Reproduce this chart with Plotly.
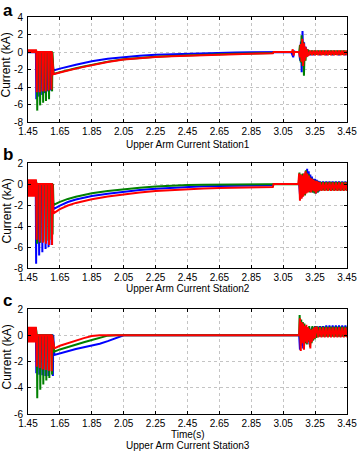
import plotly.graph_objects as go

# ---------------- shared time grids ----------------
PRE_T = [1.45, 1.455, 1.46, 1.465, 1.47, 1.475, 1.48, 1.485, 1.49, 1.495, 1.499]
DEC_T = [1.61, 1.65, 1.70, 1.75, 1.80, 1.85, 1.95, 2.05, 2.15, 2.25, 2.35, 2.45, 2.55, 2.65, 2.75, 2.85, 2.985]
X_TICKS = [1.45, 1.65, 1.85, 2.05, 2.25, 2.45, 2.65, 2.85, 3.05, 3.25, 3.45]

# ---------------- Station 1 (panel a) ----------------
A_PRE_B = [0.1, -0.1, 0.15, -0.1, 0.1, -0.1, 0.15, -0.1, 0.1, -0.1, 0.1]
A_PRE_G = [0.2, -0.05, 0.2, -0.05, 0.2, -0.05, 0.2, -0.05, 0.2, -0.05, 0.2]
A_PRE_R = [0.3, -0.1, 0.3, -0.1, 0.3, -0.1, 0.3, -0.1, 0.3, -0.1, 0.3]
A_SPK_T_B = [1.502, 1.520, 1.539, 1.557, 1.576, 1.594]
A_SPK_V_B = [-5.4, -5.1, -4.9, -4.7, -4.5, -4.4]
A_SPK_T_G = [1.508, 1.526, 1.545, 1.563, 1.582, 1.601]
A_SPK_V_G = [-6.7, -6.1, -5.8, -5.6, -5.4, -4.5]
A_SPK_T_R = [1.505, 1.523, 1.542, 1.560, 1.579, 1.597]
A_SPK_V_R = [-4.6, -4.6, -4.5, -4.5, -4.4, -4.3]
A_DEC_B = [-2.1, -1.9, -1.65, -1.45, -1.25, -1.05, -0.78, -0.56, -0.42, -0.32, -0.25, -0.19, -0.13, -0.08, -0.05, -0.03, -0.02]
A_DEC_G = [-2.5, -2.3, -2.05, -1.85, -1.65, -1.45, -1.1, -0.83, -0.66, -0.54, -0.46, -0.38, -0.31, -0.26, -0.21, -0.17, -0.12]
A_DEC_R = [-2.55, -2.35, -2.1, -1.9, -1.7, -1.5, -1.15, -0.87, -0.7, -0.58, -0.5, -0.42, -0.35, -0.3, -0.25, -0.2, -0.15]
A_TR_T_B = [2.99, 3.10, 3.113, 3.118, 3.125, 3.15, 3.156, 3.161, 3.166, 3.171, 3.176, 3.181, 3.186, 3.191, 3.196, 3.201, 3.206]
A_TR_V_B = [0, 0, -0.6, 0.1, 0, 0, -1.0, 1.2, -2.3, 2.4, -1.4, 1.1, -0.9, 0.6, -0.5, 0.3, -0.3]
A_TR_T_G = [2.99, 3.15, 3.155, 3.16, 3.165, 3.17, 3.175, 3.18, 3.185, 3.19, 3.195, 3.20, 3.205]
A_TR_V_G = [0, 0, 0.8, -1.2, 1.9, -1.6, 1.2, -2.7, 0.6, -1.0, 0.3, -0.5, 0.2]
A_TR_T_R = [2.99, 3.105, 3.11, 3.115, 3.12, 3.15, 3.155, 3.16, 3.165, 3.17, 3.175, 3.18, 3.185, 3.19, 3.195, 3.20, 3.205]
A_TR_V_R = [0, 0, 0.3, -0.4, 0, 0, -0.6, 0.9, -1.1, 1.5, -1.6, 1.0, -1.0, 0.6, -0.6, 0.3, -0.4]
A_ST_T = [3.21, 3.22, 3.23, 3.24, 3.25, 3.26, 3.27, 3.28, 3.29, 3.30, 3.31, 3.32, 3.33,
          3.34, 3.35, 3.36, 3.37, 3.38, 3.39, 3.40, 3.41, 3.42, 3.43, 3.44, 3.45]
A_ST_B = [0.1, -0.35, 0.1, -0.35, 0.1, -0.3, 0.1, -0.35, 0.1, -0.3, 0.1, -0.35, 0.1,
          -0.3, 0.1, -0.35, 0.1, -0.3, 0.1, -0.35, 0.1, -0.3, 0.1, -0.35, 0.1]
A_ST_G = [0.15, -0.3, 0.15, -0.3, 0.15, -0.3, 0.15, -0.3, 0.15, -0.3, 0.15, -0.3, 0.15,
          -0.3, 0.15, -0.3, 0.15, -0.3, 0.15, -0.3, 0.15, -0.3, 0.15, -0.3, 0.15]
A_ST_R = [-0.35, 0.15, -0.35, 0.15, -0.35, 0.15, -0.35, 0.15, -0.35, 0.15, -0.35, 0.15, -0.35,
          0.15, -0.35, 0.15, -0.35, 0.15, -0.35, 0.15, -0.35, 0.15, -0.35, 0.15, -0.35]

# ---------------- Station 2 (panel b) ----------------
B_PRE_B = [0.3, -1.1, 0.3, -1.1, 0.3, -1.1, 0.3, -1.1, 0.3, -1.1, 0.3]
B_PRE_G = [0.35, -1.15, 0.35, -1.15, 0.35, -1.15, 0.35, -1.15, 0.35, -1.15, 0.35]
B_PRE_R = [0.45, -1.2, 0.45, -1.2, 0.45, -1.2, 0.45, -1.2, 0.45, -1.2, 0.45]
B_SPK_T_B = [1.501, 1.520, 1.540, 1.560, 1.579, 1.598]
B_SPK_V_B = [-7.6, -6.8, -6.5, -6.2, -6.0, -5.8]
B_SPK_T_G = [1.507, 1.526, 1.546, 1.566, 1.585, 1.604]
B_SPK_V_G = [-5.7, -5.6, -5.5, -5.4, -5.3, -4.8]
B_SPK_T_R = [1.504, 1.523, 1.543, 1.563, 1.582, 1.601]
B_SPK_V_R = [-5.3, -5.5, -5.6, -5.7, -5.8, -5.8]
B_DEC_B = [-2.4, -2.05, -1.72, -1.48, -1.29, -1.14, -0.92, -0.73, -0.58, -0.45, -0.35, -0.28, -0.22, -0.18, -0.15, -0.13, -0.12]
B_DEC_G = [-2.0, -1.7, -1.42, -1.22, -1.04, -0.89, -0.67, -0.5, -0.36, -0.25, -0.16, -0.1, -0.06, -0.04, -0.03, -0.02, -0.02]
B_DEC_R = [-2.8, -2.4, -2.05, -1.8, -1.6, -1.46, -1.2, -0.98, -0.82, -0.67, -0.57, -0.49, -0.43, -0.38, -0.34, -0.31, -0.28]
B_TR_T_B = [2.99, 3.15, 3.155, 3.16, 3.165, 3.17, 3.175, 3.18, 3.185, 3.19, 3.195, 3.20, 3.205, 3.21,
            3.215, 3.22, 3.225, 3.23, 3.235, 3.24, 3.245, 3.25, 3.255, 3.26, 3.265, 3.27, 3.275]
B_TR_V_B = [0, 0, -1.0, 0.8, -1.3, 0.7, -1.0, 0.9, -0.8, 1.1, -0.7, 1.45, -0.6, 1.2,
            -0.7, 0.9, -0.6, 0.7, -0.8, 0.5, -0.7, 0.5, -0.9, 0.4, -0.8, 0.3, -0.7]
B_TR_T_G = [2.99, 3.147, 3.152, 3.157, 3.162, 3.167, 3.172, 3.177, 3.182, 3.187, 3.192, 3.197, 3.202,
            3.207, 3.212, 3.217, 3.222, 3.227, 3.232, 3.237, 3.242, 3.247, 3.252, 3.257, 3.262, 3.267, 3.272]
B_TR_V_G = [0, 0, 1.1, -1.4, 0.9, -1.2, 1.0, -1.0, 0.8, -1.1, 1.3, -0.8, 1.0,
            -0.7, 0.9, -0.8, 0.6, -0.7, 0.5, -0.8, 0.4, -0.9, 0.3, -0.7, 0.3, -0.8, 0.2]
B_TR_T_R = [2.99, 3.145, 3.15, 3.155, 3.16, 3.165, 3.17, 3.175, 3.18, 3.185, 3.19, 3.195, 3.20, 3.205,
            3.21, 3.215, 3.22, 3.225, 3.23, 3.235, 3.24, 3.245, 3.25, 3.255, 3.26, 3.265, 3.27, 3.275]
B_TR_V_R = [0, 0, 1.0, -1.6, 0.9, -1.4, 0.8, -1.2, 1.0, -1.0, 1.2, -0.9, 1.0, -0.8,
            0.8, -0.7, 0.6, -0.8, 0.5, -0.6, 0.4, -0.7, 0.3, -0.9, 0.3, -0.7, 0.2, -0.6]
B_ST_T = [3.28, 3.29, 3.30, 3.31, 3.32, 3.33, 3.34, 3.35, 3.36, 3.37, 3.38, 3.39,
          3.40, 3.41, 3.42, 3.43, 3.44, 3.45]
B_ST_B = [0.25, -0.55, 0.25, -0.55, 0.25, -0.55, 0.25, -0.55, 0.25, -0.55, 0.25, -0.55,
          0.25, -0.55, 0.25, -0.55, 0.25, -0.55]
B_ST_G = [-0.6, 0.2, -0.6, 0.2, -0.6, 0.2, -0.6, 0.2, -0.6, 0.2, -0.6, 0.2,
          -0.6, 0.2, -0.6, 0.2, -0.6, 0.2]
B_ST_R = [0.15, -0.65, 0.15, -0.65, 0.15, -0.65, 0.15, -0.65, 0.15, -0.65, 0.15, -0.65,
          0.15, -0.65, 0.15, -0.65, 0.15, -0.65]

# ---------------- Station 3 (panel c) ----------------
C_PRE_B = [0.55, -0.5, 0.55, -0.5, 0.55, -0.5, 0.55, -0.5, 0.55, -0.5, 0.55]
C_PRE_G = [0.6, -0.5, 0.6, -0.5, 0.6, -0.5, 0.6, -0.5, 0.6, -0.5, 0.6]
C_PRE_R = [0.65, -0.55, 0.65, -0.55, 0.65, -0.55, 0.65, -0.55, 0.65, -0.55, 0.65]
C_SPK_T_B = [1.502, 1.521, 1.540, 1.559, 1.578, 1.606]
C_SPK_V_B = [-2.9, -3.0, -3.05, -3.1, -3.1, -3.1]
C_SPK_T_G = [1.508, 1.527, 1.546, 1.565, 1.584, 1.601]
C_SPK_V_G = [-4.8, -4.15, -3.75, -3.45, -3.25, -3.0]
C_SPK_T_R = [1.505, 1.524, 1.543, 1.562, 1.581, 1.598]
C_SPK_V_R = [-2.4, -2.5, -2.6, -2.65, -2.7, -2.75]
C_DEC_T = [1.615, 1.65, 1.70, 1.75, 1.80, 1.85, 1.90, 1.95, 2.00, 2.05]
C_DEC_B = [-1.5, -1.38, -1.2, -1.05, -0.92, -0.8, -0.65, -0.45, -0.22, 0.0]
C_DEC_G = [-1.25, -1.08, -0.88, -0.7, -0.53, -0.36, -0.18, -0.03, 0.0, 0.0]
C_DEC_R = [-1.0, -0.8, -0.6, -0.4, -0.22, -0.06, 0.0, 0.0, 0.0, 0.0]
C_TR_T_B = [3.15, 3.155, 3.16, 3.165, 3.17, 3.175, 3.18, 3.185, 3.19, 3.195, 3.20, 3.205, 3.21,
            3.215, 3.22, 3.225, 3.23, 3.235, 3.24, 3.245, 3.25, 3.255]
C_TR_V_B = [0, -1.1, 0.9, -0.8, 0.8, -1.0, 0.6, -0.5, 0.7, -0.6, 0.5, -0.4, 0.6,
            -0.7, 0.4, -0.3, 0.6, -0.4, 0.5, -0.2, 0.7, -0.2]
C_TR_T_G = [3.15, 3.153, 3.158, 3.163, 3.168, 3.173, 3.178, 3.183, 3.188, 3.193, 3.198, 3.203,
            3.208, 3.213, 3.218, 3.223, 3.228, 3.233, 3.238, 3.243, 3.248, 3.253, 3.258]
C_TR_V_G = [0, 1.55, -0.3, 1.2, -0.5, 1.0, -0.4, 0.9, -0.6, 0.7, -0.7, 0.6,
            -0.5, 0.7, -0.9, 0.5, -0.6, 0.7, -0.4, 0.6, -0.3, 0.7, -0.2]
C_TR_T_R = [3.15, 3.155, 3.16, 3.165, 3.17, 3.175, 3.18, 3.185, 3.19, 3.195, 3.20, 3.205, 3.21,
            3.215, 3.22, 3.225, 3.23, 3.235, 3.24, 3.245, 3.25, 3.255]
C_TR_V_R = [0, 1.3, -1.2, 1.0, -0.6, 0.9, -1.1, 0.7, -0.5, 0.8, -0.6, 0.6, -0.4,
            0.5, -1.0, 0.4, -0.5, 0.5, -0.3, 0.6, -0.2, 0.6]
C_ST_T = [3.26, 3.27, 3.28, 3.29, 3.30, 3.31, 3.32, 3.33, 3.34, 3.35, 3.36, 3.37,
          3.38, 3.39, 3.40, 3.41, 3.42, 3.43, 3.44, 3.45]
C_ST_B = [0.7, -0.1, 0.7, -0.1, 0.7, -0.1, 0.75, -0.1, 0.75, -0.1, 0.75, -0.1,
          0.75, -0.1, 0.75, -0.1, 0.75, -0.1, 0.75, -0.1]
C_ST_G = [-0.1, 0.65, -0.1, 0.65, -0.1, 0.65, -0.1, 0.65, -0.1, 0.65, -0.1, 0.65,
          -0.1, 0.65, -0.1, 0.65, -0.1, 0.65, -0.1, 0.65]
C_ST_R = [0.6, -0.15, 0.6, -0.15, 0.6, -0.15, 0.6, -0.15, 0.6, -0.15, 0.6, -0.15,
          0.6, -0.15, 0.6, -0.15, 0.6, -0.15, 0.6, -0.15]

PANEL_LABELS = ["a", "b", "c"]
PANEL_TITLES = ["Upper Arm Current Station1", "Upper Arm Current Station2", "Upper Arm Current Station3"]
Y_RANGES = [[-8, 4], [-8, 2], [-6, 2]]
Y_TICKS = [[-8, -6, -4, -2, 0, 2, 4], [-8, -6, -4, -2, 0, 2], [-6, -4, -2, 0, 2]]

COLORS = {"B": "#0000ff", "G": "#008000", "R": "#ff0000"}
SPIKE_HALF = 0.0025


def build(pre_v, spk_t, spk_v, dec_t, dec_v, tr_t, tr_v, st_t, st_v):
    x = list(PRE_T)
    y = list(pre_v)
    for t, m in zip(spk_t, spk_v):
        x += [t - SPIKE_HALF, t, t + SPIKE_HALF]
        y += [0, m, 0]
    x += list(dec_t) + list(tr_t) + list(st_t)
    y += list(dec_v) + list(tr_v) + list(st_v)
    return x, y


panels = [
    {
        "B": build(A_PRE_B, A_SPK_T_B, A_SPK_V_B, DEC_T, A_DEC_B, A_TR_T_B, A_TR_V_B, A_ST_T, A_ST_B),
        "G": build(A_PRE_G, A_SPK_T_G, A_SPK_V_G, DEC_T, A_DEC_G, A_TR_T_G, A_TR_V_G, A_ST_T, A_ST_G),
        "R": build(A_PRE_R, A_SPK_T_R, A_SPK_V_R, DEC_T, A_DEC_R, A_TR_T_R, A_TR_V_R, A_ST_T, A_ST_R),
    },
    {
        "B": build(B_PRE_B, B_SPK_T_B, B_SPK_V_B, DEC_T, B_DEC_B, B_TR_T_B, B_TR_V_B, B_ST_T, B_ST_B),
        "G": build(B_PRE_G, B_SPK_T_G, B_SPK_V_G, DEC_T, B_DEC_G, B_TR_T_G, B_TR_V_G, B_ST_T, B_ST_G),
        "R": build(B_PRE_R, B_SPK_T_R, B_SPK_V_R, DEC_T, B_DEC_R, B_TR_T_R, B_TR_V_R, B_ST_T, B_ST_R),
    },
    {
        "B": build(C_PRE_B, C_SPK_T_B, C_SPK_V_B, C_DEC_T, C_DEC_B, C_TR_T_B, C_TR_V_B, C_ST_T, C_ST_B),
        "G": build(C_PRE_G, C_SPK_T_G, C_SPK_V_G, C_DEC_T, C_DEC_G, C_TR_T_G, C_TR_V_G, C_ST_T, C_ST_G),
        "R": build(C_PRE_R, C_SPK_T_R, C_SPK_V_R, C_DEC_T, C_DEC_R, C_TR_T_R, C_TR_V_R, C_ST_T, C_ST_R),
    },
]

W, H = 358, 452
PLOT_L, PLOT_R = 28, 347
PLOT_TB = [(17, 122), (163, 268), (309, 414)]

FONT = "Liberation Sans, Arial, sans-serif"
TICK_SIZE = 10
TITLE_SIZE = 10

fig = go.Figure()
layout = dict(
    width=W, height=H, margin=dict(l=0, r=0, t=0, b=0, pad=0),
    paper_bgcolor="white", plot_bgcolor="white", showlegend=False,
    annotations=[],
)

for i, pdata in enumerate(panels):
    suffix = "" if i == 0 else str(i + 1)
    xa, ya = "x" + suffix, "y" + suffix
    for ph in ["B", "G", "R"]:
        x, y = pdata[ph]
        fig.add_trace(go.Scatter(x=x, y=y, mode="lines", xaxis=xa, yaxis=ya,
                                 line=dict(color=COLORS[ph], width=2), hoverinfo="skip"))
    top, bot = PLOT_TB[i]
    layout["xaxis" + suffix] = dict(
        domain=[PLOT_L / W, PLOT_R / W], anchor=ya, range=[1.45, 3.45],
        tickmode="array", tickvals=X_TICKS, ticktext=[f"{v:.2f}" for v in X_TICKS],
        showgrid=True, gridcolor="#c4c4c4", griddash="dot", gridwidth=1,
        showline=True, linecolor="black", linewidth=1, mirror="ticks",
        ticks="inside", ticklen=3, tickcolor="black", zeroline=False,
        tickfont=dict(family=FONT, size=TICK_SIZE, color="black"), automargin=False,
    )
    layout["yaxis" + suffix] = dict(
        domain=[1 - bot / H, 1 - top / H], anchor=xa, range=Y_RANGES[i],
        tickmode="array", tickvals=Y_TICKS[i], ticktext=[str(v) for v in Y_TICKS[i]],
        showgrid=True, gridcolor="#c4c4c4", griddash="dot", gridwidth=1,
        showline=True, linecolor="black", linewidth=1, mirror="ticks",
        ticks="inside", ticklen=3, tickcolor="black", zeroline=False,
        ticklabelstandoff=2,
        tickfont=dict(family=FONT, size=TICK_SIZE, color="black"), automargin=False,
    )
    # y title
    layout["annotations"].append(dict(
        text="Current (kA)", xref="paper", yref="paper", textangle=-90,
        x=6 / W, y=1 - ((top + bot) / 2 - 4) / H, xanchor="center", yanchor="middle",
        showarrow=False, font=dict(family=FONT, size=12, color="black")))

# panel letters
for lab, cy in zip(PANEL_LABELS, [10, 154, 300]):
    layout["annotations"].append(dict(
        text=f"<b>{lab}</b>", xref="paper", yref="paper",
        x=1 / W, y=1 - cy / H, xanchor="left", yanchor="middle", showarrow=False,
        font=dict(family=FONT, size=17, color="black")))

XC = (PLOT_L + PLOT_R) / 2 / W
for txt, cy in [(PANEL_TITLES[0], 144), (PANEL_TITLES[1], 288.5), ("Time(s)", 434.5), (PANEL_TITLES[2], 445)]:
    layout["annotations"].append(dict(text=txt, xref="paper", yref="paper",
                                      x=XC, y=1 - cy / H, xanchor="center",
                                      yanchor="middle", showarrow=False,
                                      font=dict(family=FONT, size=TITLE_SIZE, color="black")))

fig.update_layout(**layout)
fig.write_html("out.html", config={"displayModeBar": False, "staticPlot": True},
               post_script="document.body.style.margin='0px';document.body.style.overflow='hidden';")
